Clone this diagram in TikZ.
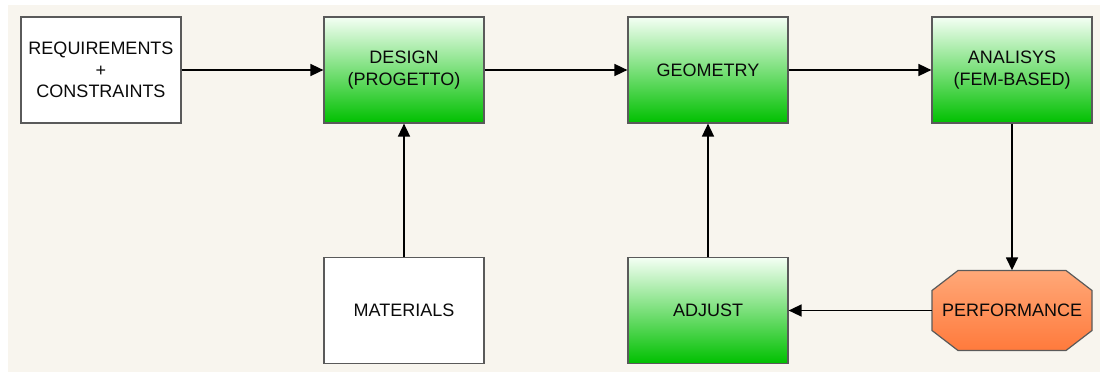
\documentclass[tikz,border=0pt]{standalone}
\usepackage{fontspec}
\setmainfont{Liberation Sans}
\usetikzlibrary{arrows.meta,calc}
\definecolor{bgcream}{HTML}{F8F5EE}
\definecolor{boxline}{HTML}{5A5A5A}
\definecolor{gtop}{HTML}{F4FFF4}
\definecolor{gbot}{HTML}{00C000}
\definecolor{otop}{HTML}{FFA878}
\definecolor{obot}{HTML}{FF7A3C}
\definecolor{txt}{HTML}{0A0A0A}
\begin{document}
\begin{tikzpicture}[x=1pt,y=-1pt,
  box/.style={rectangle, minimum width=160pt, minimum height=106pt, inner sep=0pt,
    align=center, text=txt, font=\fontsize{18}{21.5}\selectfont, draw=boxline, line width=1.2pt},
  whitebox/.style={box, fill=white},
  greenbox/.style={box, top color=gtop, bottom color=gbot},
  perfbox/.style={rectangle, minimum width=160pt, minimum height=80pt, inner sep=0pt,
    text=txt, font=\fontsize{18}{21.5}\selectfont},
  octline/.style={draw=boxline, line width=1.2pt, line join=miter},
  arr/.style={-{Triangle[length=13pt,width=12pt]}, line width=1.6pt, black}]
\useasboundingbox (0,0) rectangle (1100,372);
\fill[white] (0,0) rectangle (1100,372);
\fill[bgcream] (8,5) rectangle (1100,372);

\node[whitebox] (req) at (101,70) {REQUIREMENTS\\+\\CONSTRAINTS};
\node[greenbox] (design) at (404,70) {DESIGN\\(PROGETTO)};
\node[greenbox] (geom) at (708,70) {GEOMETRY};
\node[greenbox] (anal) at (1012,70) {ANALISYS\\(FEM-BASED)};
\node[whitebox] (mat) at (404,310.5) {MATERIALS};
\node[greenbox] (adj) at (708,310.5) {ADJUST};

\coordinate (pc) at (1012,310.5);
\shade[top color=otop, bottom color=obot]
  ($(pc)+(-80,-20)$) -- ($(pc)+(-54,-40)$) -- ($(pc)+(54,-40)$) -- ($(pc)+(80,-20)$)
  -- ($(pc)+(80,20)$) -- ($(pc)+(54,40)$) -- ($(pc)+(-54,40)$) -- ($(pc)+(-80,20)$) -- cycle;
\draw[octline]
  ($(pc)+(-80,-20)$) -- ($(pc)+(-54,-40)$) -- ($(pc)+(54,-40)$) -- ($(pc)+(80,-20)$)
  -- ($(pc)+(80,20)$) -- ($(pc)+(54,40)$) -- ($(pc)+(-54,40)$) -- ($(pc)+(-80,20)$) -- cycle;
\node[perfbox] (perf) at (pc) {PERFORMANCE};

\draw[arr] (req) -- (design);
\draw[arr] (design) -- (geom);
\draw[arr] (geom) -- (anal);
\draw[arr] (mat) -- (design);
\draw[arr] (adj) -- (geom);
\draw[arr] (anal) -- (perf);
\draw[arr] (perf) -- (adj);
\end{tikzpicture}
\end{document}
